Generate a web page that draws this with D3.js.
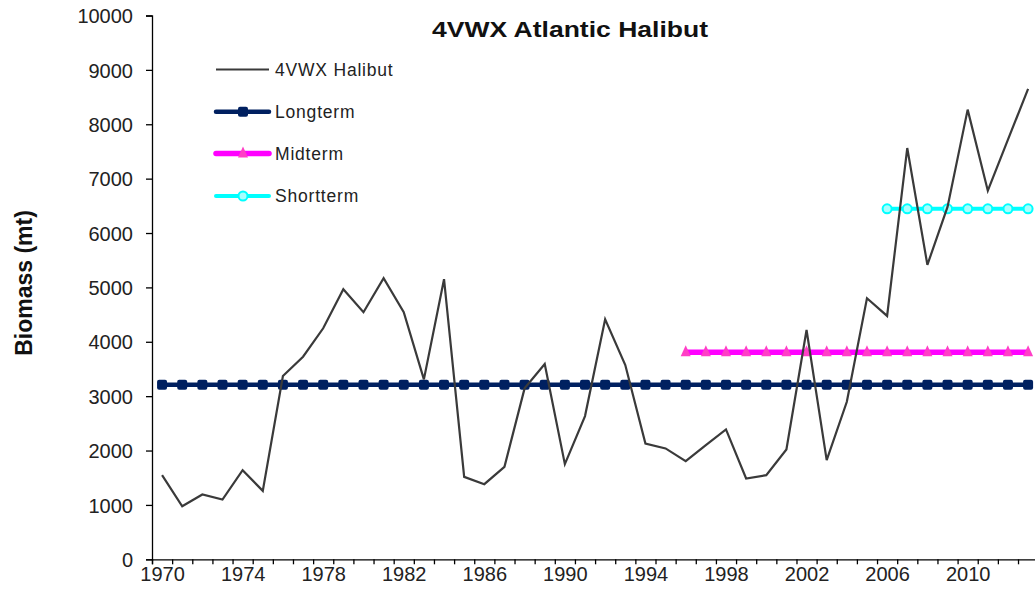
<!DOCTYPE html>
<html>
<head>
<meta charset="utf-8">
<script src="https://cdn.jsdelivr.net/npm/d3@7"></script>
<style>
  html, body { margin: 0; padding: 0; background: #fff; }
  svg { display: block; font-family: "Liberation Sans", Arial, sans-serif; }
</style>
</head>
<body>
<svg id="chart" width="1035" height="597"></svg>
<script>
// Survey years (one category per year)
const years = [1970, 1971, 1972, 1973, 1974, 1975, 1976, 1977, 1978, 1979,
               1980, 1981, 1982, 1983, 1984, 1985, 1986, 1987, 1988, 1989,
               1990, 1991, 1992, 1993, 1994, 1995, 1996, 1997, 1998, 1999,
               2000, 2001, 2002, 2003, 2004, 2005, 2006, 2007, 2008, 2009,
               2010, 2011, 2012, 2013];

// Annual biomass index, metric tonnes
const biomass = [1547, 976, 1191, 1099, 1639, 1258, 3370, 3726, 4248, 4967,
                 4543, 5169, 4543, 3309, 5151, 1516, 1381, 1700, 3143, 3591,
                 1750, 2634, 4414, 3573, 2130, 2039, 1805, 2099, 2388, 1486,
                 1547, 2020, 4217, 1823, 2897, 4801, 4475, 7563, 5414, 6480,
                 8269, 6777, 7716, 8650];

// Reference means: name, first year of the averaging period, mean level
const refNames  = ["Longterm", "Midterm", "Shortterm"];
const refStarts = [1970, 1996, 2006];
const refValues = [3210, 3806, 6446];

const yTicks = [0, 1000, 2000, 3000, 4000, 5000, 6000, 7000, 8000, 9000, 10000];
const xLabels = [1970, 1974, 1978, 1982, 1986, 1990, 1994, 1998, 2002, 2006, 2010];

const svg = d3.select("#chart");

const plotLeft = 152, plotBottom = 559.3, plotTop = 15.5;
const catW = 20.14;
const x = d3.scaleLinear()
  .domain([years[0] - 0.5, years[years.length - 1] + 0.5])
  .range([plotLeft, plotLeft + catW * years.length]);
const y = d3.scaleLinear().domain([0, 10000]).range([plotBottom, plotTop]);

// y axis
const yAxis = svg.append("g")
  .attr("transform", `translate(${plotLeft},0)`)
  .call(d3.axisLeft(y).tickValues(yTicks).tickSize(6).tickPadding(13)
    .tickFormat(d3.format("d")));
yAxis.select(".domain").attr("stroke", "#000").attr("stroke-width", 1.3);
yAxis.selectAll(".tick line").attr("stroke", "#000").attr("stroke-width", 1.3);
yAxis.selectAll(".tick text")
  .attr("font-size", "20px").attr("fill", "#222")
  .attr("font-family", "Liberation Sans, Arial, sans-serif")
  .attr("dy", "0.36em");

// x axis: ticks on category boundaries, labels every fourth year
const bounds = years.map(d => d - 0.5).concat([years[years.length - 1] + 0.5]);
const xAxis = svg.append("g")
  .attr("transform", `translate(0,${plotBottom})`)
  .call(d3.axisBottom(x).tickValues(bounds).tickSize(5).tickFormat(""));
xAxis.select(".domain").attr("stroke", "#000").attr("stroke-width", 1.3);
xAxis.selectAll(".tick line").attr("stroke", "#000").attr("stroke-width", 1.3);

const xLab = svg.append("g")
  .attr("transform", `translate(0,${plotBottom})`)
  .call(d3.axisBottom(x).tickValues(xLabels).tickSize(0).tickPadding(8)
    .tickFormat(d3.format("d")));
xLab.select(".domain").remove();
xLab.selectAll(".tick text")
  .attr("font-size", "20px").attr("fill", "#222")
  .attr("font-family", "Liberation Sans, Arial, sans-serif")
  .attr("dy", "0.71em");

// series styles
const refStyle = [
  { color: "#002060", width: 4.5, marker: "square", mfill: "#002060" },
  { color: "#FF00FF", width: 5.5, marker: "triangle", mfill: "#FF3FC6" },
  { color: "#00FFFF", width: 4, marker: "circle", mfill: "#A8FFFF" }
];

function drawMarker(g, type, cx, cy, fill, stroke) {
  if (type === "square") {
    g.append("rect").attr("x", cx - 5).attr("y", cy - 5)
      .attr("width", 10).attr("height", 10).attr("rx", 2)
      .attr("fill", fill);
  } else if (type === "triangle") {
    g.append("path")
      .attr("d", `M${cx},${cy - 7}L${cx + 5},${cy + 4}L${cx - 5},${cy + 4}Z`)
      .attr("fill", fill);
  } else {
    g.append("circle").attr("cx", cx).attr("cy", cy).attr("r", 4.5)
      .attr("fill", fill).attr("stroke", stroke).attr("stroke-width", 2);
  }
}

const line = d3.line().x(d => x(d[0])).y(d => y(d[1]));

// reference mean lines
refNames.forEach((name, i) => {
  const pts = years.filter(yr => yr >= refStarts[i]).map(yr => [yr, refValues[i]]);
  const st = refStyle[i];
  const g = svg.append("g");
  g.append("path").datum(pts).attr("d", line)
    .attr("fill", "none").attr("stroke", st.color).attr("stroke-width", st.width);
  pts.forEach(p => drawMarker(g, st.marker, x(p[0]), y(p[1]), st.mfill, st.color));
});

// biomass line
svg.append("path")
  .datum(years.map((yr, i) => [yr, biomass[i]]))
  .attr("d", line)
  .attr("fill", "none").attr("stroke", "#3a3a3a").attr("stroke-width", 2.2)
  .attr("stroke-linejoin", "miter");

// title
svg.append("text")
  .attr("x", 570).attr("y", 37)
  .attr("text-anchor", "middle")
  .attr("font-size", "22px").attr("font-weight", "bold").attr("fill", "#111")
  .attr("textLength", 276).attr("lengthAdjust", "spacingAndGlyphs")
  .text("4VWX Atlantic Halibut");

// y axis title
svg.append("text")
  .attr("transform", "translate(32,283) rotate(-90)")
  .attr("text-anchor", "middle")
  .attr("font-size", "23px").attr("font-weight", "bold").attr("fill", "#111")
  .text("Biomass (mt)");

// legend
const legend = svg.append("g");
const legRows = [
  { label: "4VWX Halibut", y: 69.5 },
  { label: refNames[0], y: 111.7 },
  { label: refNames[1], y: 153.5 },
  { label: refNames[2], y: 196 }
];
legRows.forEach((r, i) => {
  if (i === 0) {
    legend.append("line").attr("x1", 216).attr("x2", 269)
      .attr("y1", r.y).attr("y2", r.y)
      .attr("stroke", "#3a3a3a").attr("stroke-width", 2.2);
  } else {
    const st = refStyle[i - 1];
    legend.append("line").attr("x1", 216).attr("x2", 269)
      .attr("y1", r.y).attr("y2", r.y)
      .attr("stroke", st.color).attr("stroke-width", st.width)
      .attr("stroke-linecap", "round");
    drawMarker(legend, st.marker, 243, r.y, st.mfill, st.color);
  }
  legend.append("text")
    .attr("x", 275).attr("y", r.y + 6.3)
    .attr("font-size", "17.5px").attr("fill", "#222")
    .attr("letter-spacing", "0.8px")
    .text(r.label);
});
</script>
</body>
</html>
